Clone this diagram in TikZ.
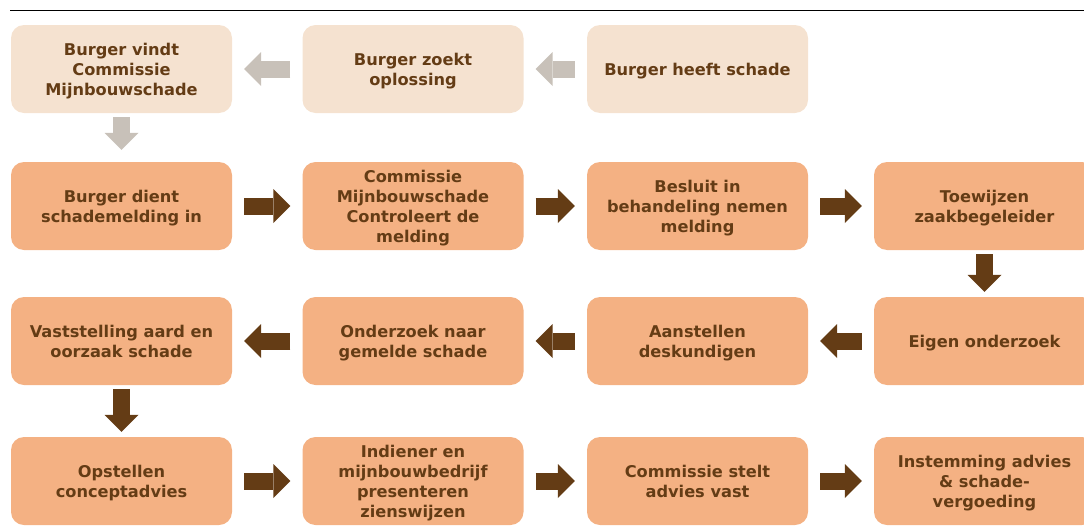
\documentclass[tikz,border=0pt]{standalone}
\usepackage{fontspec}
\setmainfont{DejaVu Sans}
\usetikzlibrary{arrows.meta}

\definecolor{stepfill}{HTML}{F4B183}
\definecolor{startfill}{HTML}{F5E2D0}
\definecolor{stepbrown}{HTML}{643C15}
\definecolor{startgray}{HTML}{C8C1B9}

\begin{document}
\begin{tikzpicture}[x=1pt, y=1pt,
        stepbox/.style={rectangle, rounded corners=13pt, fill=stepfill, minimum width=221pt,
            minimum height=88pt, inner sep=0pt, align=center, text=stepbrown,
            font=\fontsize{16.2}{20}\selectfont\bfseries, text depth=-4pt},
        startbox/.style={stepbox, fill=startfill},
        flow/.style={draw=stepbrown, line width=17pt,
            -{Triangle[length=17pt, width=34pt, line width=0pt]},
            shorten <=12pt, shorten >=12pt},
        flowdown/.style={flow, shorten <=4pt, shorten >=5pt},
        startflow/.style={flow, draw=startgray}]
        \clip (0,0) rectangle (1084,-525);

        \draw[line width=1.2pt] (10,-10.5) -- (1084,-10.5);

        \node[startbox] (vindt) at (121.5,-69) {Burger vindt\\Commissie\\Mijnbouwschade};
        \node[startbox] (zoekt) at (413,-69) {Burger zoekt\\oplossing};
        \node[startbox] (heeft) at (697.5,-69) {Burger heeft schade};

        \node[stepbox] (melding) at (121.5,-206) {Burger dient\\schademelding in};
        \node[stepbox] (controle) at (413,-206) {Commissie\\Mijnbouwschade\\Controleert de\\melding};
        \node[stepbox] (besluit) at (697.5,-206) {Besluit in\\behandeling nemen\\melding};
        \node[stepbox] (toewijzen) at (984.5,-206) {Toewijzen\\zaakbegeleider};

        \node[stepbox] (vaststelling) at (121.5,-341) {Vaststelling aard en\\oorzaak schade};
        \node[stepbox] (onderzoek) at (413,-341) {Onderzoek naar\\gemelde schade};
        \node[stepbox] (deskundigen) at (697.5,-341) {Aanstellen\\deskundigen};
        \node[stepbox] (eigen) at (984.5,-341) {Eigen onderzoek};

        \node[stepbox] (concept) at (121.5,-481) {Opstellen\\conceptadvies};
        \node[stepbox] (zienswijzen) at (413,-481) {Indiener en\\mijnbouwbedrijf\\presenteren\\zienswijzen};
        \node[stepbox] (vaststellen) at (697.5,-481) {Commissie stelt\\advies vast};
        \node[stepbox] (instemming) at (984.5,-481) {Instemming advies\\\& schade-\\vergoeding};

        \draw[startflow] (heeft) -- (zoekt);
        \draw[startflow] (zoekt) -- (vindt);
        \draw[startflow, shorten <=4pt, shorten >=12pt] (vindt) -- (melding);

        \draw[flow] (melding) -- (controle);
        \draw[flow] (controle) -- (besluit);
        \draw[flow] (besluit) -- (toewijzen);
        \draw[flowdown] (toewijzen) -- (eigen);

        \draw[flow] (eigen) -- (deskundigen);
        \draw[flow] (deskundigen) -- (onderzoek);
        \draw[flow] (onderzoek) -- (vaststelling);
        \draw[flowdown] (vaststelling) -- (concept);

        \draw[flow] (concept) -- (zienswijzen);
        \draw[flow] (zienswijzen) -- (vaststellen);
        \draw[flow] (vaststellen) -- (instemming);
\end{tikzpicture}
\end{document}
